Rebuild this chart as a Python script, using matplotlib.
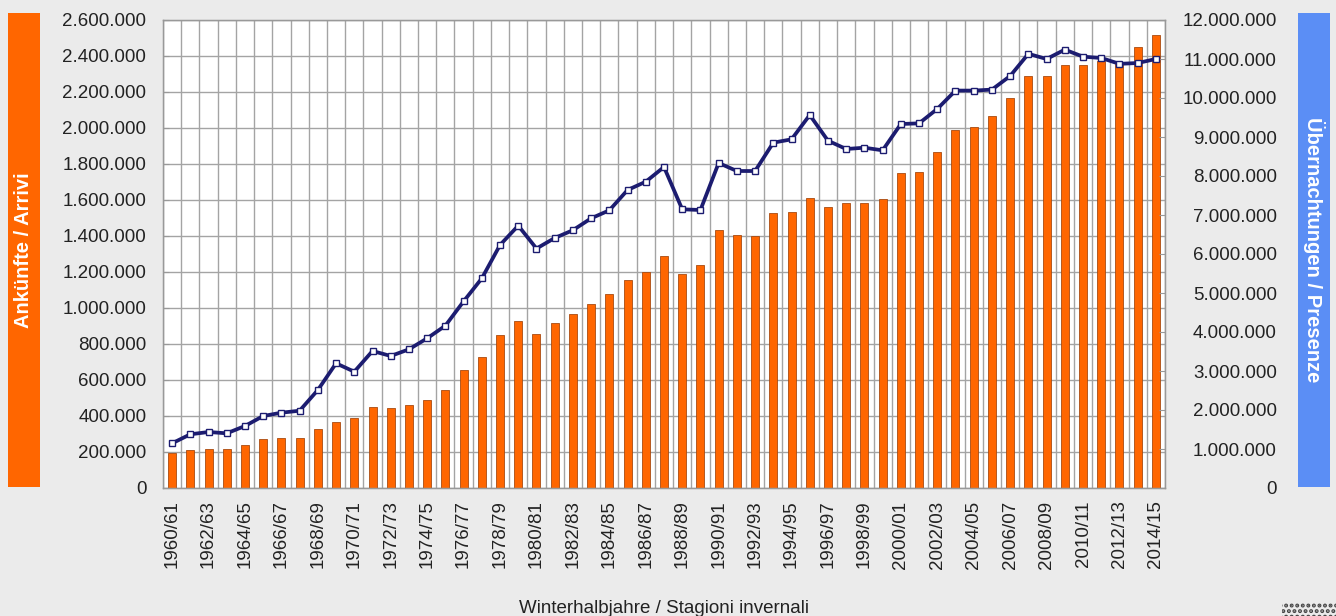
import matplotlib
matplotlib.use("Agg")
import matplotlib.pyplot as plt
import numpy as np
from matplotlib.patches import Rectangle
from matplotlib.ticker import FuncFormatter, MultipleLocator

plt.rcParams['font.family'] = ['Liberation Sans', 'DejaVu Sans']
plt.rcParams['hatch.linewidth'] = 2.0

seasons = [f"{y}/{str(y + 1)[-2:]}" for y in range(1960, 2015)]

arrivals = [195, 211, 218, 218, 241, 270, 276, 276, 326, 366, 388, 450, 444, 461, 489,
            546, 654, 728, 848, 928, 854, 914, 967, 1025, 1077, 1157, 1200, 1290, 1189, 1240,
            1433, 1406, 1400, 1529, 1532, 1613, 1563, 1581, 1586, 1604, 1751, 1757, 1866, 1991, 2003,
            2066, 2168, 2287, 2287, 2350, 2350, 2371, 2355, 2451, 2516]
arrivals = [v * 1000 for v in arrivals]

nights = [1146, 1377, 1436, 1402, 1590, 1846, 1931, 1982, 2513, 3197, 2982, 3513, 3385, 3556, 3838,
          4162, 4786, 5375, 6231, 6727, 6140, 6410, 6610, 6915, 7120, 7641, 7854, 8231, 7146, 7128,
          8333, 8128, 8128, 8855, 8940, 9564, 8905, 8692, 8726, 8658, 9333, 9350, 9720, 10190, 10190,
          10215, 10564, 11133, 11000, 11240, 11060, 11026, 10876, 10897, 11000]
nights = [v * 1000 for v in nights]

left_label = "Ankünfte / Arrivi"
right_label = "Übernachtungen / Presenze"
x_label = "Winterhalbjahre / Stagioni invernali"

W, H = 1336, 616
fig = plt.figure(figsize=(W / 100, H / 100), dpi=100, facecolor='#ebebeb')
ax = fig.add_axes([163 / W, 1 - 488 / H, (1165 - 163) / W, (488 - 20) / H])
ax.set_facecolor('white')

x = np.arange(len(seasons))
ax.bar(x, arrivals, width=0.44, color='#ff6600', edgecolor='#a84a10', linewidth=0.6, zorder=2)
ax.set_xlim(-0.5, len(seasons) - 0.5)
ax.set_ylim(0, 2600000)
ax.yaxis.set_major_locator(MultipleLocator(200000))
fmt = FuncFormatter(lambda v, p: f"{v:,.0f}".replace(",", "."))
ax.yaxis.set_major_formatter(fmt)

ax.set_xticks(x[::2])
ax.set_xticklabels(seasons[::2], rotation=90, fontsize=13.5, color='#222222')
ax.set_xticks(np.arange(-0.5, len(seasons), 1), minor=True)
ax.tick_params(axis='x', which='both', length=0, pad=9)
ax.tick_params(axis='y', direction='in', length=4, color='#999999', pad=12,
               labelsize=13.5, labelcolor='#222222')
ax.grid(axis='y', which='major', color='#a4a4a4', linewidth=1.0, zorder=0)
ax.grid(axis='x', which='minor', color='#a4a4a4', linewidth=1.0, zorder=0)
ax.set_axisbelow(True)
for s in ax.spines.values():
    s.set_color('#999999')
    s.set_linewidth(1.0)

ax2 = ax.twinx()
ax2.plot(x, nights, color='#1c1c70', linewidth=2.7, marker='s', markersize=4.8,
         markerfacecolor='white', markeredgecolor='#1c1c70', markeredgewidth=1.0, zorder=3)
ax2.set_ylim(0, 12000000)
ax2.yaxis.set_major_locator(MultipleLocator(1000000))
ax2.yaxis.set_major_formatter(fmt)
ax2.tick_params(axis='y', direction='in', length=4, color='#999999', pad=80.5,
                labelsize=13.5, labelcolor='#222222')
for lbl in ax2.get_yticklabels():
    lbl.set_ha('right')
for s in ax2.spines.values():
    s.set_color('#999999')

ax.set_xlabel(x_label, fontsize=13.5, color='#222222')
ax.xaxis.set_label_coords(0.5, -0.24)

# side label boxes
fig.patches.append(Rectangle((8 / W, 1 - 487 / H), 32 / W, (487 - 13) / H,
                             transform=fig.transFigure, facecolor='#ff6600', edgecolor='none'))
fig.patches.append(Rectangle((1298 / W, 1 - 487 / H), 32 / W, (487 - 13) / H,
                             transform=fig.transFigure, facecolor='#5b8ef5', edgecolor='none'))
fig.text(24 / W, 1 - 250 / H, left_label, rotation=90, ha='center', va='center',
         color='white', fontsize=14.5, fontweight='bold')
fig.text(1314 / W, 1 - 250 / H, right_label, rotation=-90, ha='center', va='center',
         color='white', fontsize=14.5, fontweight='bold')

# small dotted logo fragment bottom right
fig.patches.append(Rectangle((1282 / W, 0), 54 / W, 13 / H, transform=fig.transFigure,
                             facecolor='none', edgecolor='#444444', hatch='...', linewidth=0))

fig.savefig('out.png', dpi=100, facecolor=fig.get_facecolor())
